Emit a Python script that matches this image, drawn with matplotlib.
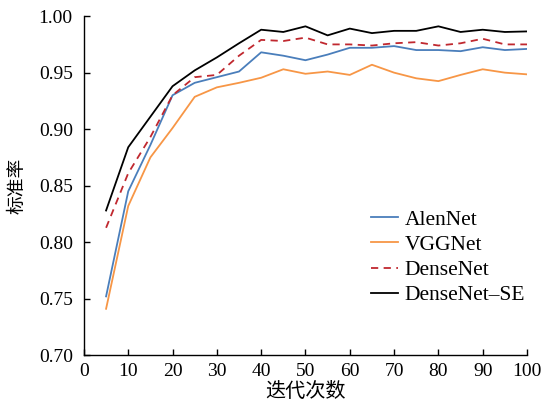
import matplotlib.pyplot as plt

epochs = [5, 10, 15, 20, 25, 30, 35, 40, 45, 50, 55, 60, 65, 70, 75, 80, 85, 90, 95, 100]

alennet = [0.752, 0.845, 0.886, 0.930, 0.941, 0.946, 0.951, 0.968, 0.965, 0.961,
           0.966, 0.972, 0.972, 0.9735, 0.970, 0.970, 0.969, 0.9725, 0.970, 0.971]
vggnet = [0.741, 0.832, 0.875, 0.901, 0.9286, 0.937, 0.941, 0.9455, 0.953, 0.949,
          0.951, 0.948, 0.957, 0.950, 0.945, 0.9425, 0.948, 0.953, 0.950, 0.9485]
densenet = [0.8127, 0.861, 0.893, 0.930, 0.946, 0.948, 0.965, 0.979, 0.978, 0.981,
            0.975, 0.975, 0.974, 0.976, 0.977, 0.974, 0.976, 0.980, 0.975, 0.975]
densenet_se = [0.828, 0.884, 0.911, 0.938, 0.952, 0.9635, 0.976, 0.988, 0.986, 0.991,
               0.983, 0.989, 0.985, 0.987, 0.987, 0.991, 0.986, 0.988, 0.986, 0.9865]

serif = ['Liberation Serif', 'DejaVu Serif']
cjk = ['Noto Sans CJK SC', 'DejaVu Sans']

fig = plt.figure(figsize=(5.45, 4.04), dpi=100)
ax = fig.add_axes([0.154, 0.121, 0.813, 0.839])

ax.plot(epochs, alennet, color='#4a7ebb', lw=1.3, label='AlenNet')
ax.plot(epochs, vggnet, color='#f79646', lw=1.3, label='VGGNet')
ax.plot(epochs, densenet, color='#c0282f', lw=1.3, ls=(0, (4, 3)), label='DenseNet')
ax.plot(epochs, densenet_se, color='black', lw=1.3, label='DenseNet\u2013SE')

ax.set_xlim(0, 100)
ax.set_ylim(0.70, 1.00)
ax.set_xticks(range(0, 101, 10))
ax.set_yticks([0.70, 0.75, 0.80, 0.85, 0.90, 0.95, 1.00])
ax.set_yticklabels([f'{v:.2f}' for v in ax.get_yticks()])

for s in ['top', 'right']:
    ax.spines[s].set_visible(False)
for s in ['left', 'bottom']:
    ax.spines[s].set_linewidth(1.0)
ax.tick_params(direction='in', length=4, width=1.0, labelsize=14)
ax.tick_params(axis='y', pad=8)
ax.tick_params(axis='x', pad=6)
for lab in ax.get_xticklabels() + ax.get_yticklabels():
    lab.set_family(serif)

ax.set_xlabel('迭代次数', family=cjk, fontsize=14.5, labelpad=0.5)
ax.set_ylabel('标准率', family=cjk, fontsize=13.5, labelpad=8)

leg = ax.legend(loc='upper left', bbox_to_anchor=(0.628, 0.455), borderaxespad=0,
                frameon=False, prop={'family': serif, 'size': 15.5},
                handlelength=1.25, handletextpad=0.33, labelspacing=0.24)

fig.savefig('out.png', dpi=100)
